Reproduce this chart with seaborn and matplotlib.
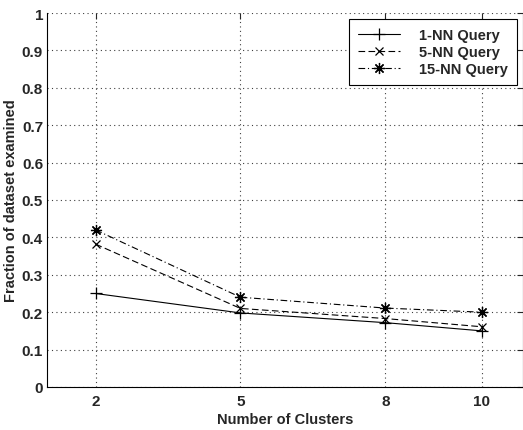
import matplotlib
matplotlib.use("Agg")
import matplotlib.pyplot as plt
import seaborn as sns
import pandas as pd
from matplotlib.lines import Line2D

clusters = [2, 5, 8, 10]
nn1 = [0.25, 0.198, 0.172, 0.150]
nn5 = [0.382, 0.210, 0.183, 0.161]
nn15 = [0.420, 0.240, 0.211, 0.200]
series_names = ["1-NN Query", "5-NN Query", "15-NN Query"]
y_ticks = [0, 0.1, 0.2, 0.3, 0.4, 0.5, 0.6, 0.7, 0.8, 0.9, 1]
y_tick_labels = ["0", "0.1", "0.2", "0.3", "0.4", "0.5", "0.6", "0.7", "0.8", "0.9", "1"]

sns.set_style("white")
plt.rcParams["font.family"] = ["Liberation Sans", "DejaVu Sans"]
plt.rcParams["font.weight"] = "bold"

rows = []
for name, vals in zip(series_names, [nn1, nn5, nn15]):
    for c, v in zip(clusters, vals):
        rows.append({"Clusters": c, "Fraction": v, "Query": name})
df = pd.DataFrame(rows)

fig = plt.figure(figsize=(5.23, 4.31), dpi=100)
ax = fig.add_axes([0.0904, 0.0998, 0.9096, 0.8677])

styles = {
    "1-NN Query": dict(marker="+", ls="-", ms=8),
    "5-NN Query": dict(marker="x", ls=(0, (6, 3)), ms=6),
    "15-NN Query": dict(marker=(8, 2, 0), ls=(0, (6, 2.5, 1, 2.5)), ms=8),
}
handles = []
for name in series_names:
    st = styles[name]
    sub = df[df["Query"] == name]
    sns.lineplot(data=sub, x="Clusters", y="Fraction", ax=ax, color="black",
                 linewidth=0.8, marker=st["marker"], markersize=st["ms"],
                 markeredgewidth=0.9, markeredgecolor="black",
                 linestyle=st["ls"], legend=False)
    handles.append(Line2D([], [], color="black", lw=0.8, ls=st["ls"], marker=st["marker"],
                          markersize=st["ms"], markeredgewidth=0.9))

ax.set_xlim(1, 10.85)
ax.set_ylim(0, 1)
ax.set_xticks(clusters)
ax.set_xticklabels([str(c) for c in clusters], fontsize=11, fontweight="bold")
ax.set_yticks(y_ticks)
ax.set_yticklabels(y_tick_labels, fontsize=11, fontweight="bold")
ax.tick_params(direction="in", length=4, width=0.8, top=True, right=True)
ax.tick_params(axis="y", pad=3)
ax.tick_params(axis="x", pad=5)
ax.grid(True, linestyle=(0, (1, 3)), color="0.25", linewidth=0.8)
for s in ["left", "bottom", "right"]:
    ax.spines[s].set_color("black")
    ax.spines[s].set_linewidth(0.8)
ax.spines["top"].set_visible(False)

ax.set_xlabel("Number of Clusters", fontsize=10.5, fontweight="bold", labelpad=3)
ax.set_ylabel("Fraction of dataset examined", fontsize=10.5, fontweight="bold", labelpad=3)

leg = ax.legend(handles, series_names, loc="upper right", bbox_to_anchor=(0.987, 0.984),
                borderaxespad=0, frameon=True, fancybox=False, edgecolor="black", framealpha=1,
                prop={"weight": "bold", "size": 10.5}, handlelength=2.9,
                borderpad=0.6, labelspacing=0.22, handletextpad=1.3)
leg.get_frame().set_linewidth(0.8)

fig.savefig("out.png", dpi=100)
